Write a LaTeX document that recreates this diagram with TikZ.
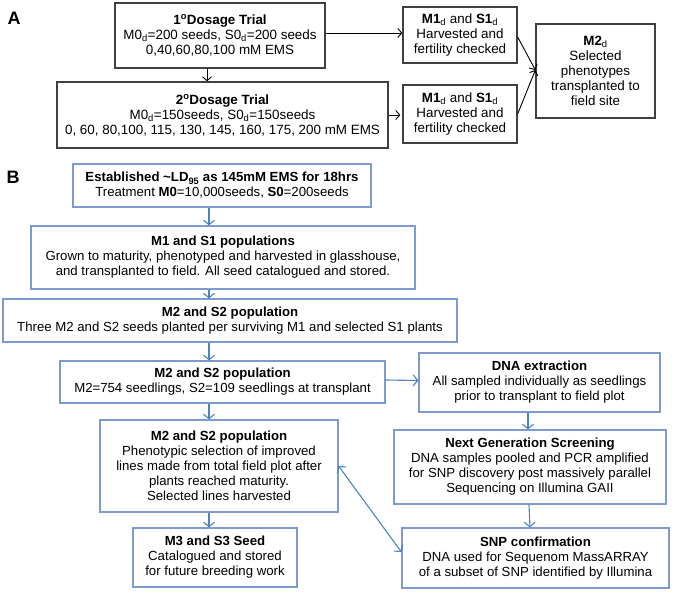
\documentclass[tikz,border=0pt]{standalone}
\usepackage{fontspec}
\setmainfont{Liberation Sans}
\newfontfamily\arialf{Liberation Sans}
\usetikzlibrary{arrows.meta}
\definecolor{bbord}{RGB}{125,155,205}
\definecolor{barrow}{RGB}{79,129,189}
\definecolor{abord}{RGB}{64,64,64}
\begin{document}
\begin{tikzpicture}[x=1pt,y=-1pt,
  abox/.style={draw=abord,line width=1.3pt,inner sep=0pt,align=center,font=\arialf\fontsize{13.4}{15}\selectfont},
  bbox/.style={draw=bbord,line width=1.2pt,inner sep=0pt,align=center,font=\fontsize{13.2}{15}\selectfont},
  aarr/.style={draw=black,line width=0.9pt,-{Straight Barb[length=4pt,width=9pt]}},
  barr/.style={draw=barrow,line width=1.1pt,-{Straight Barb[length=4.5pt,width=11pt]}},
  lbl/.style={font=\arialf\bfseries\fontsize{18}{21}\selectfont,inner sep=0pt}
]
\useasboundingbox (0,0) rectangle (675,592);
% labels
\node[lbl] (la) at (14,18.5) {A};
\node[lbl] (lb) at (13,177.5) {B};
% Part A
\node[abox,minimum width=210pt,minimum height=65pt] (d1) at (220,35.5)
  {\textbf{1\textsuperscript{o}Dosage Trial}\\M0\textsubscript{d}=200 seeds, S0\textsubscript{d}=200 seeds\\0,40,60,80,100 mM EMS};
\node[abox,minimum width=331pt,minimum height=66pt] (d2) at (222.5,115)
  {\textbf{2\textsuperscript{o}Dosage Trial}\\M0\textsubscript{d}=150seeds, S0\textsubscript{d}=150seeds\\0, 60, 80,100, 115, 130, 145, 160, 175, 200 mM EMS};
\node[abox,minimum width=114pt,minimum height=56pt] (m1a) at (460,35)
  {\textbf{M1}\textsubscript{d} and \textbf{S1}\textsubscript{d}\\Harvested and\\fertility checked};
\node[abox,minimum width=114pt,minimum height=58pt] (m1b) at (460,114)
  {\textbf{M1}\textsubscript{d} and \textbf{S1}\textsubscript{d}\\Harvested and\\fertility checked};
\node[abox,minimum width=119pt,minimum height=94pt] (m2d) at (595.5,71)
  {\textbf{M2}\textsubscript{d}\\Selected\\phenotypes\\transplanted to\\field site};
\coordinate (ax) at (207,0);
\draw[aarr] (d1.south -| ax) -- (d2.north -| ax);
\draw[aarr] ([yshift=2.5pt]d1.east) -- ([yshift=2.5pt]d1.east -| m1a.west);
\draw[aarr] (d2.east) -- ([xshift=-2pt]m1b.west |- d2.east);
\draw[aarr] ([yshift=-2pt]m1a.east) -- ([yshift=1pt]m2d.west);
\draw[aarr] (m1b.east) -- ([yshift=1pt]m2d.west);
% Part B
\node[bbox,minimum width=298pt,minimum height=43pt] (est) at (222,185.5)
  {\textbf{Established \textasciitilde LD\textsubscript{95} as 145mM EMS for 18hrs}\\Treatment \textbf{M0}=10,000seeds, \textbf{S0}=200seeds};
\node[bbox,minimum width=384pt,minimum height=63pt] (m1s1) at (223,257.5)
  {\textbf{M1 and S1 populations}\\Grown to maturity, phenotyped and harvested in glasshouse,\\and transplanted to field. All seed catalogued and stored.};
\node[bbox,minimum width=454pt,minimum height=43pt] (m2a) at (230,320.5)
  {\textbf{M2 and S2 population}\\Three M2 and S2 seeds planted per surviving M1 and selected S1 plants};
\node[bbox,minimum width=325pt,minimum height=42pt] (m2b) at (222.5,382)
  {\textbf{M2 and S2 population}\\M2=754 seedlings, S2=109 seedlings at transplant};
\node[bbox,minimum width=238pt,minimum height=92pt] (m2c) at (219,466)
  {\textbf{M2 and S2 population}\\Phenotypic selection of improved\\lines made from total field plot after\\plants reached maturity.\\Selected lines harvested};
\node[bbox,minimum width=164pt,minimum height=59pt] (m3) at (215,557.5)
  {\textbf{M3 and S3 Seed}\\Catalogued and stored\\for future breeding work};
\node[bbox,minimum width=241pt,minimum height=59pt] (dna) at (539.5,382.5)
  {\textbf{DNA extraction}\\All sampled individually as seedlings\\prior to transplant to field plot};
\node[bbox,minimum width=272pt,minimum height=74pt] (ngs) at (530,467)
  {\textbf{Next Generation Screening}\\DNA samples pooled and PCR amplified\\for SNP discovery post massively parallel\\Sequencing on Illumina GAII};
\node[bbox,minimum width=267pt,minimum height=60pt] (snp) at (535.5,558)
  {\textbf{SNP confirmation}\\DNA used for Sequenom MassARRAY\\of a subset of SNP identified by Illumina};
\coordinate (bx) at (209,0);
\coordinate (rx) at (528,0);
\draw[barr] (est.south -| bx) -- (m1s1.north -| bx);
\draw[barr] (m1s1.south -| bx) -- (m2a.north -| bx);
\draw[barr] (m2a.south -| bx) -- (m2b.north -| bx);
\draw[barr] (m2b.south -| bx) -- (m2c.north -| bx);
\draw[barr] (m2c.south -| bx) -- (m3.north -| bx);
\draw[barr] ([yshift=2pt]m2b.east) -- ([yshift=2pt]dna.west);
\draw[barr] (dna.south -| rx) -- (ngs.north -| rx);
\draw[barr] ([xshift=1pt]ngs.south -| rx) -- ([xshift=2pt]snp.north -| rx);
\draw[barr,{Straight Barb[length=4.5pt,width=11pt]}-{Straight Barb[length=4.5pt,width=11pt]}] (m2c.east) -- ([yshift=6pt]snp.west);
\end{tikzpicture}
\end{document}
